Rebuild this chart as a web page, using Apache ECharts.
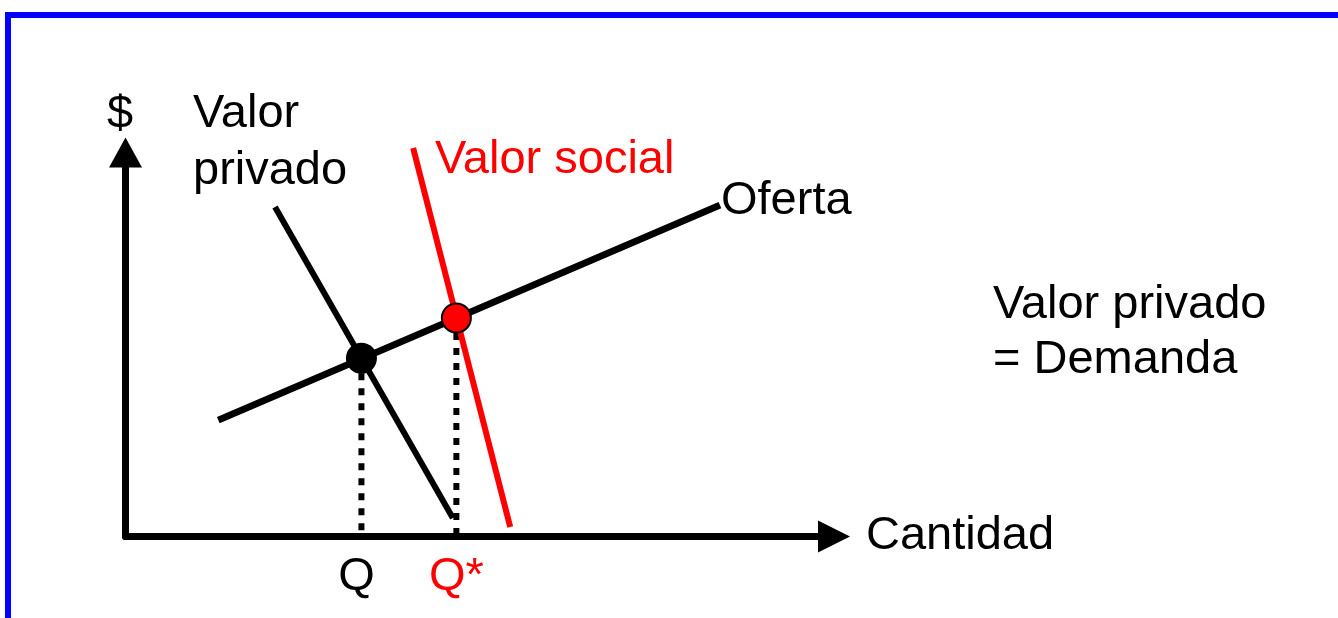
<!DOCTYPE html>
<html>
<head>
<meta charset="utf-8">
<script src="https://cdn.jsdelivr.net/npm/echarts@6/dist/echarts.min.js"></script>
<style>
  html, body { margin: 0; padding: 0; background: #fff; }
  #chart { width: 1338px; height: 618px; }
</style>
</head>
<body>
<div id="chart"></div>
<script>
// curves in abstract units (cantidad, $)
const oferta = [[1.31, 3.03], [8.39, 8.63]]
const valorPrivado = [[2.11, 8.58], [4.62, 0.48]]
const valorSocial = [[4.06, 10.12], [5.43, 0.25]]

// equilibria: private and social
const equilibrio = [3.33, 4.64]
const equilibrioSocial = [4.67, 5.69]
const cantidadLabels = ['Q', 'Q*']

const font = 'Liberation Sans, Arial, sans-serif'
const chart = echarts.init(document.getElementById('chart'))

const txt = (text, x, y, fill) => ({
  type: 'text',
  style: { text, x, y, fill: fill || '#000', font: '47px ' + font, textVerticalAlign: 'middle' }
})

chart.setOption({
  animation: false,
  grid: { left: 125.5, right: 504, top: 152.5, bottom: 81.5 },
  xAxis: {
    type: 'value', min: 0, max: 10,
    name: 'Cantidad', nameLocation: 'end', nameGap: 32,
    nameTextStyle: { fontSize: 47, fontFamily: font, color: '#000', verticalAlign: 'middle', padding: [5, 0, 0, 0] },
    axisLine: { lineStyle: { color: '#000', width: 7 }, symbol: ['none', 'triangle'], symbolSize: [32, 32] },
    axisTick: { show: false }, axisLabel: { show: false }, splitLine: { show: false }
  },
  yAxis: {
    type: 'value', min: 0, max: 10,
    name: '$', nameLocation: 'end', nameGap: 14,
    nameTextStyle: { fontSize: 47, fontFamily: font, color: '#000', padding: [0, 11, 0, 0] },
    axisLine: { lineStyle: { color: '#000', width: 7 }, symbol: ['none', 'triangle'], symbolSize: [33, 30] },
    axisTick: { show: false }, axisLabel: { show: false }, splitLine: { show: false }
  },
  series: [
    {
      type: 'line', data: [equilibrio, [equilibrio[0], 0]], showSymbol: false, clip: false,
      lineStyle: { color: '#000', width: 6, type: [7, 8] }, z: 1
    },
    {
      type: 'line', data: [equilibrioSocial, [equilibrioSocial[0], 0]], showSymbol: false, clip: false,
      lineStyle: { color: '#000', width: 6, type: [7, 8] }, z: 1
    },
    { type: 'line', data: oferta, showSymbol: false, clip: false, lineStyle: { color: '#000', width: 7 }, z: 2 },
    { type: 'line', data: valorPrivado, showSymbol: false, clip: false, lineStyle: { color: '#000', width: 6 }, z: 2 },
    { type: 'line', data: valorSocial, showSymbol: false, clip: false, lineStyle: { color: '#ff0000', width: 6 }, z: 2 },
    {
      type: 'scatter', z: 3, clip: false,
      symbolSize: (v, p) => (p.dataIndex === 0 ? 31 : 29),
      itemStyle: { opacity: 1 },
      data: [
        { value: equilibrio, itemStyle: { color: '#000', opacity: 1 } },
        { value: equilibrioSocial, itemStyle: { color: '#ff0000', borderColor: '#000', borderWidth: 2, opacity: 1 } }
      ]
    },
    {
      type: 'scatter', z: 3, clip: false, symbolSize: 0, silent: true,
      itemStyle: { opacity: 1 },
      label: { show: true, position: 'bottom', distance: 17, fontSize: 47, fontFamily: font },
      data: [
        { value: [equilibrio[0], 0], label: { formatter: cantidadLabels[0], color: '#000', offset: [-5, 0] } },
        { value: [equilibrioSocial[0], 0], label: { formatter: cantidadLabels[1], color: '#ff0000' } }
      ]
    }
  ],
  graphic: [
    { type: 'rect', shape: { x: 5, y: 12, width: 1333, height: 6 }, style: { fill: '#0000ff' } },
    { type: 'rect', shape: { x: 5, y: 12, width: 6, height: 606 }, style: { fill: '#0000ff' } },
    txt('Valor', 193, 114),
    txt('privado', 193, 171),
    txt('Valor social', 435, 160, '#ff0000'),
    txt('Oferta', 721, 201),
    txt('Valor privado', 993, 305),
    txt('= Demanda', 993, 360)
  ]
})
</script>
</body>
</html>
